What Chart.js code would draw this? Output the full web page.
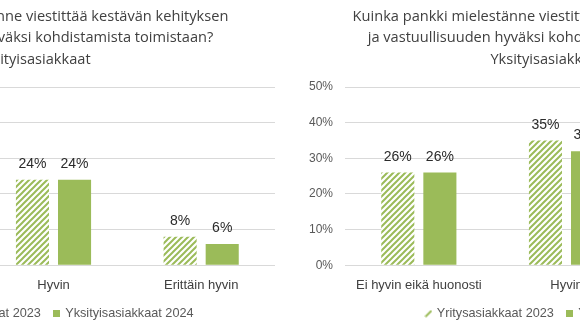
<!DOCTYPE html>
<html>
<head>
<meta charset="utf-8">
<script src="https://cdn.jsdelivr.net/npm/chart.js@4/dist/chart.umd.min.js"></script>
<style>
  html, body { margin: 0; padding: 0; background: #fff; }
  body { width: 580px; height: 326px; overflow: hidden; position: relative; }
  .panel { position: absolute; top: 0; width: 520px; height: 330px; }
  #leftPanel { left: -223px; }
  #rightPanel { left: 290px; }
</style>
</head>
<body>
<div class="panel" id="leftPanel"><canvas id="leftChart"></canvas></div>
<div class="panel" id="rightPanel"><canvas id="rightChart"></canvas></div>
<script>
// Answer categories shown on the x axis
const categories = ['Ei hyvin eikä huonosti', 'Hyvin', 'Erittäin hyvin'];
// Series names
const seriesNames = ['Yritysasiakkaat 2023', 'Yksityisasiakkaat 2024'];
// Shares in percent (null = not shown)
const leftBusiness2023 = [null, 24, 8];
const leftPrivate2024 = [null, 24, 6];
const rightBusiness2023 = [26, 35, null];
const rightPrivate2024 = [26, 32, null];
// Value axis
const yMin = 0;
const yMax = 50;
const yStep = 10;
// Chart title
const titleLines = [
  'Kuinka pankki mielestänne viestittää kestävän kehityksen',
  'ja vastuullisuuden hyväksi kohdistamista toimistaan?',
  'Yksityisasiakkaat'
];

const GREEN = '#9BBB59';
const FONT = '"Liberation Sans", Arial, sans-serif';
const TITLE_FONT = '"Open Sans", "Liberation Sans", sans-serif';

function stripePattern(color) {
  const c = document.createElement('canvas');
  c.width = 6; c.height = 6;
  const g = c.getContext('2d');
  g.fillStyle = '#fff';
  g.fillRect(0, 0, 6, 6);
  g.strokeStyle = color;
  g.lineWidth = 2;
  g.beginPath();
  g.moveTo(-1, 7); g.lineTo(7, -1);
  g.moveTo(-1, 1); g.lineTo(1, -1);
  g.moveTo(5, 7); g.lineTo(7, 5);
  g.stroke();
  return g.createPattern(c, 'repeat');
}

function hatchIcon(color) {
  const c = document.createElement('canvas');
  c.width = 8; c.height = 8;
  const g = c.getContext('2d');
  g.strokeStyle = color;
  g.lineWidth = 2;
  g.beginPath();
  g.moveTo(1, 7); g.lineTo(7, 1);
  g.stroke();
  return c;
}

function squareIcon(color) {
  const c = document.createElement('canvas');
  c.width = 7; c.height = 7;
  const g = c.getContext('2d');
  g.fillStyle = color;
  g.fillRect(0, 0, 7, 7);
  return c;
}

const legendIcons = [hatchIcon(GREEN), squareIcon(GREEN)];

// Percent labels above each bar
const valueLabels = {
  id: 'valueLabels',
  afterDatasetsDraw(chart) {
    const ctx = chart.ctx;
    ctx.save();
    ctx.font = '14px ' + FONT;
    ctx.fillStyle = '#2b2b2b';
    ctx.textAlign = 'center';
    ctx.textBaseline = 'alphabetic';
    chart.data.datasets.forEach((ds, i) => {
      chart.getDatasetMeta(i).data.forEach((bar, j) => {
        const v = ds.data[j];
        if (v === null || v === undefined) return;
        ctx.fillText(v + '%', bar.x, bar.y - 12);
      });
    });
    ctx.restore();
  }
};

function makeChart(id, business, priv) {
  return new Chart(document.getElementById(id), {
    type: 'bar',
    data: {
      labels: categories,
      datasets: [
        {
          label: seriesNames[0],
          data: business,
          backgroundColor: stripePattern(GREEN),
          borderWidth: 0,
          categoryPercentage: 0.57,
          barPercentage: 0.786
        },
        {
          label: seriesNames[1],
          data: priv,
          backgroundColor: GREEN,
          borderWidth: 0,
          categoryPercentage: 0.57,
          barPercentage: 0.786
        }
      ]
    },
    options: {
      responsive: true,
      maintainAspectRatio: false,
      animation: false,
      events: [],
      layout: { padding: { left: 16, right: 22, top: 0, bottom: 0 } },
      scales: {
        x: {
          grid: { display: false, drawTicks: false },
          border: { display: false },
          ticks: {
            color: '#404040',
            font: { size: 13, family: FONT },
            padding: 12,
            maxRotation: 0,
            autoSkip: false
          },
          afterFit(scale) { scale.height = 28; }
        },
        y: {
          min: yMin,
          max: yMax,
          border: { display: false },
          grid: { color: '#d9d9d9', lineWidth: 1, drawTicks: false },
          ticks: {
            stepSize: yStep,
            color: '#595959',
            font: { size: 12, family: FONT },
            padding: 12,
            callback: v => v + '%'
          },
          afterFit(scale) { scale.width = 39; }
        }
      },
      plugins: {
        title: {
          display: true,
          text: titleLines,
          color: '#404040',
          font: { size: 14.6, family: TITLE_FONT, weight: 'normal', lineHeight: 1.473 },
          padding: { top: 6, bottom: 16.5 }
        },
        legend: {
          position: 'bottom',
          fullSize: false,
          labels: {
            color: '#595959',
            font: { size: 12.7, family: FONT },
            usePointStyle: true,
            pointStyleWidth: 4,
            boxWidth: 8,
            boxHeight: 8,
            padding: 14,
            generateLabels(chart) {
              const items = Chart.defaults.plugins.legend.labels.generateLabels(chart);
              items.forEach((it, i) => { it.pointStyle = legendIcons[i]; });
              return items;
            }
          }
        },
        tooltip: { enabled: false }
      }
    },
    plugins: [valueLabels]
  });
}

makeChart('leftChart', leftBusiness2023, leftPrivate2024);
makeChart('rightChart', rightBusiness2023, rightPrivate2024);
</script>
</body>
</html>
